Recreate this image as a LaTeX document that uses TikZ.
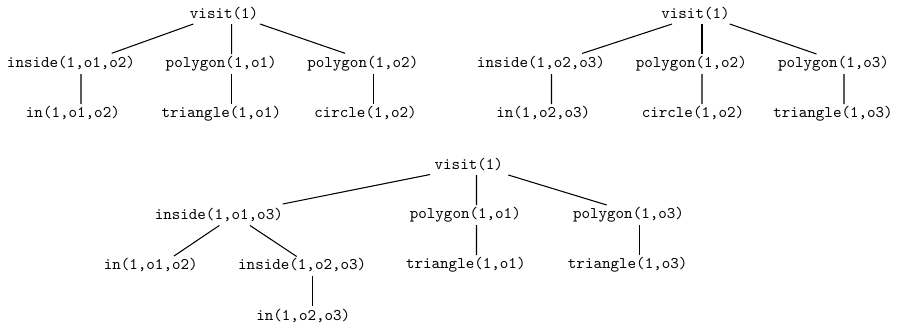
\documentclass[tikz,border=0pt]{standalone}
\usetikzlibrary{calc}
\begin{document}
\begin{tikzpicture}[x=0.615pt,y=-0.615pt,
  lbl/.style={inner sep=0pt,font=\ttfamily},
  edge/.style={line width=0.65pt,black}]
\useasboundingbox (0,0) rectangle (898,327);
% tree 1
\node[lbl] (v1) at (224.1,14) {visit(1)};
\node[lbl] (a1) at (71,63.3) {inside(1,o1,o2)};
\node[lbl] (b1) at (221.2,63.3) {polygon(1,o1)};
\node[lbl] (c1) at (362.8,63.3) {polygon(1,o2)};
\node[lbl] (d1) at (72.9,113.3) {in(1,o1,o2)};
\node[lbl] (e1) at (221.3,113.3) {triangle(1,o1)};
\node[lbl] (f1) at (365.5,113.3) {circle(1,o2)};
\draw[edge] ($(v1.center)+(-30.8,10)$) -- ($(a1.center)+(40.7,-10)$);
\draw[edge] ($(v1.center)+(7.6,10)$) -- ($(b1.center)+(10.5,-9.3)$);
\draw[edge] ($(v1.center)+(35.9,10)$) -- ($(c1.center)+(-17.8,-10)$);
\draw[edge] ($(a1.center)+(10,10.7)$) -- ($(d1.center)+(8.1,-9.3)$);
\draw[edge] ($(b1.center)+(10.5,10.7)$) -- ($(e1.center)+(10.4,-9.3)$);
\draw[edge] ($(c1.center)+(10.5,10.7)$) -- ($(f1.center)+(7.8,-9.3)$);
% tree 2
\node[lbl] (v2) at (695.5,14) {visit(1)};
\node[lbl] (a2) at (541,63.3) {inside(1,o2,o3)};
\node[lbl] (b2) at (691.3,63.3) {polygon(1,o2)};
\node[lbl] (c2) at (833.5,63.3) {polygon(1,o3)};
\node[lbl] (d2) at (543.3,113.3) {in(1,o2,o3)};
\node[lbl] (e2) at (693,113.3) {circle(1,o2)};
\node[lbl] (f2) at (833,113.3) {triangle(1,o3)};
\draw[edge] ($(v2.center)+(-23.5,10)$) -- ($(a2.center)+(41,-9.8)$);
\draw[edge] ($(v2.center)+(6.5,10)$) -- ($(b2.center)+(10.7,-9.3)$);
\draw[edge] ($(v2.center)+(34.2,10)$) -- ($(c2.center)+(-17,-9.3)$);
\draw[edge] ($(a2.center)+(10.5,10.7)$) -- ($(d2.center)+(8.2,-9.3)$);
\draw[edge] ($(b2.center)+(10.7,10.7)$) -- ($(e2.center)+(9,-9.3)$);
\draw[edge] ($(c2.center)+(10.5,10.7)$) -- ($(f2.center)+(11,-9.3)$);
% tree 3
\node[lbl] (v3) at (468.8,165) {visit(1)};
\node[lbl] (a3) at (218.8,215) {inside(1,o1,o3)};
\node[lbl] (b3) at (465.3,215) {polygon(1,o1)};
\node[lbl] (c3) at (628.5,215) {polygon(1,o3)};
\node[lbl] (d3) at (150.7,265) {in(1,o1,o2)};
\node[lbl] (g3) at (302.2,265) {inside(1,o2,o3)};
\node[lbl] (e3) at (465.8,265) {triangle(1,o1)};
\node[lbl] (f3) at (627.7,265) {triangle(1,o3)};
\node[lbl] (h3) at (303.3,315.7) {in(1,o2,o3)};
\draw[edge] ($(v3.center)+(-38.8,9.5)$) -- ($(a3.center)+(63.9,-11)$);
\draw[edge] ($(v3.center)+(7.7,10)$) -- ($(b3.center)+(11.2,-10)$);
\draw[edge] ($(v3.center)+(39.5,10)$) -- ($(c3.center)+(-21.8,-10)$);
\draw[edge] ($(a3.center)+(0.5,10.5)$) -- ($(d3.center)+(23.3,-9)$);
\draw[edge] ($(a3.center)+(31.2,10.5)$) -- ($(g3.center)+(-5.5,-8.5)$);
\draw[edge] ($(b3.center)+(11.2,10)$) -- ($(e3.center)+(10.7,-10)$);
\draw[edge] ($(c3.center)+(10.8,10)$) -- ($(f3.center)+(11.6,-10)$);
\draw[edge] ($(g3.center)+(10.5,10.5)$) -- ($(h3.center)+(9.4,-9.7)$);
\end{tikzpicture}
\end{document}
